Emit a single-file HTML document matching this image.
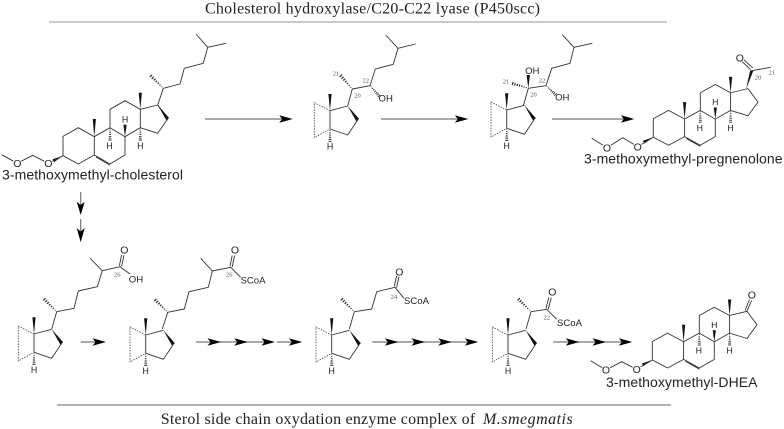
<!DOCTYPE html>
<html><head><meta charset="utf-8">
<style>
html,body{margin:0;padding:0;background:#fff}
svg{display:block;filter:blur(.3px)}
.b{fill:none;stroke:#333;stroke-width:.9;stroke-linejoin:round}
.w{fill:#111;stroke:none}
.d{fill:none;stroke:#444;stroke-width:.8;stroke-dasharray:1.5 1.2}
.a{font:9.6px "Liberation Sans",sans-serif;fill:#222;text-anchor:middle}
.m{font-size:10.5px}
.n{font:6.5px "Liberation Serif",serif;fill:#555;text-anchor:middle}
.l{font:14px "Liberation Sans",sans-serif;fill:#222}
.t{font:16px "Liberation Serif",serif;fill:#222}
.c{fill:#fff}
.ar{stroke:#777;stroke-width:1.2;fill:none}
.ah{fill:#000}
</style></head><body>
<svg width="784" height="429" viewBox="0 0 784 429" xmlns="http://www.w3.org/2000/svg">
<defs>
<path id="hv" d="M-.4 1.5h.8M-.6 3.3h1.2M-.8 5.1h1.6M-1 6.9h2M-1.2 8.7h2.4M-1.4 10.5h2.8M-1.6 12.3h3.2" stroke="#333" stroke-width=".9" fill="none"/>
<polygon id="hd" points="-13.5,-3.8 0,0 -13.5,3.8 -10.5,0"/>
<g id="nuc">
<path class="b" d="M0 0L0-19.3L15.3-28L31.3-19L31.3-.7L15.3 8.3L0 0M31.3-.7L47 8.3L62-.7L62-19L47-28L31.3-19M47-28L47-46.4L62-55L77.3-46.4L77.3-28L62-19M77.3-46.4L94.7-50.7L104.7-36.7L94.7-22.4L77.3-28M33 1.2L47 9.5"/>
<polygon class="w" points="31.3,-19 29.7,-36.7 32.9,-36.7"/>
<polygon class="w" points="77.3,-46.4 75.7,-63 78.9,-63"/>
<polygon class="w" points="62,-19 60.4,-31 63.6,-31"/>
<polygon class="w" points="0,0 -9,6.4 -10.4,3.6"/>
<use href="#hv" transform="translate(47 -28)"/>
<use href="#hv" transform="translate(77.3 -28)"/>
<text class="a" x="62" y="-33.4" style="font-size:8.8px">H</text>
<text class="a" x="46.5" y="-6.6" style="font-size:8.8px">H</text>
<text class="a" x="77.3" y="-6.6" style="font-size:8.8px">H</text>
</g>
<g id="frag">
<path class="b" d="M0 0L0 18.3L17.7 24.3L27.7 9.3M17.7-4.7L0 0"/>
<path class="d" d="M0 0L-15.7-8L-15.7 27L0 18.3"/>
<polygon class="w" points="0,0 -1.6,-16.7 1.6,-16.7"/>
<polygon class="w" points="17.7,-4.7 29.2,8.2 26.2,10.4"/>
<use href="#hv" transform="translate(0 18.3)"/>
<text class="a" x="0" y="39" style="font-size:8.8px">H</text>
</g>
</defs>

<text class="t" x="205" y="13.5" textLength="335" lengthAdjust="spacing">Cholesterol hydroxylase/C20-C22 lyase (P450scc)</text>
<line x1="49" y1="22" x2="667" y2="22" stroke="#aaa" stroke-width="1.2"/>

<!-- cholesterol -->
<use href="#nuc" x="63" y="155.7"/>
<polygon class="w" points="157.7,105 169.1,118 166.3,120"/>
<path class="b" d="M163.3 88.3L157.7 105M163.3 88.3L180 84L184.3 68.3L203.3 63.3L207.7 47.3L196 34M207.7 47.3L226 43.3M63 155.7L48.3 163.3L32.7 155.3L17.3 163.3L1.7 154.7"/>
<use href="#hv" transform="translate(163.3 88.3) rotate(135) scale(1 1.42)"/>
<circle class="c" cx="48.3" cy="163.3" r="4.6"/>
<circle class="c" cx="17.3" cy="163.3" r="4.6"/>
<text class="a m" x="48.3" y="167">O</text>
<text class="a m" x="17.3" y="167">O</text>
<text class="l" x="2" y="179.5" textLength="181">3-methoxymethyl-cholesterol</text>

<!-- diol fragment 1 -->
<use href="#frag" x="330" y="110.7"/>
<path class="b" d="M347.7 106L352.3 89L370 85.7L375.3 69L393.3 64.3L398 48.3L385.7 35M398 48.3L415.7 44"/>
<use href="#hv" transform="translate(352.3 89) rotate(139) scale(1 1.42)"/>
<use href="#hv" transform="translate(370 85.7) rotate(-42) scale(1 1.1)"/>
<text class="n" x="336" y="75.5">21</text>
<text class="n" x="357.5" y="97.5">20</text>
<text class="n" x="365.7" y="82.5">22</text>
<text class="a" x="385.7" y="101.7">OH</text>

<!-- diol fragment 2 -->
<use href="#frag" x="506.7" y="110"/>
<path class="b" d="M523.3 106L528.3 88.3L546 85.7L551.7 68.3L570 63.3L574 47.3L562.3 34.7M574 47.3L592.3 43.3"/>
<polygon class="w" points="528.3,88.3 526.6,75 530,75"/>
<use href="#hv" transform="translate(528.3 88.3) rotate(107) scale(1 1.33)"/>
<use href="#hv" transform="translate(546 85.7) rotate(-47) scale(1 1.05)"/>
<text class="a" x="532.3" y="74">OH</text>
<text class="a" x="562.3" y="100.7">OH</text>
<text class="n" x="506" y="83.5">21</text>
<text class="n" x="533.5" y="96.5">20</text>
<text class="n" x="542" y="82.5">22</text>

<!-- pregnenolone -->
<use href="#nuc" transform="translate(653.3 137.3) scale(1 .96)"/>
<polygon class="w" points="746,89.5 750.2,70.3 753.2,71"/>
<path class="b" d="M751.7 70.7L770.7 67.3M750.6 69.6L741.5 61M752.8 67.8L743.2 59.2M653.3 137.3L637.7 146.7L622.7 137.7L607 147.7L591.7 138.3"/>
<circle class="c" cx="739.8" cy="58" r="4.6"/>
<circle class="c" cx="637.7" cy="146.7" r="4.6"/>
<circle class="c" cx="607" cy="147.7" r="4.6"/>
<text class="a m" x="739.8" y="61.6">O</text>
<text class="a m" x="637.7" y="150.4">O</text>
<text class="a m" x="607" y="151.4">O</text>
<text class="n" x="758" y="79.5">20</text>
<text class="n" x="771.7" y="74.5">21</text>
<text class="l" x="584" y="163.5" textLength="198.5">3-methoxymethyl-pregnenolone</text>

<!-- arrows top -->
<path class="ar" d="M205 119H284M381 119H460M552 119H626"/>
<g class="ah">
<use href="#hd" x="292.7" y="119"/>
<use href="#hd" x="468.3" y="119"/>
<use href="#hd" x="634.3" y="119"/>
</g>
<path class="ar" d="M80.7 192V206M80.7 219V232"/>
<polygon class="ah" points="76.7,201.7 80.7,215 84.7,201.7 80.7,205"/>
<polygon class="ah" points="76.7,228 80.7,242.3 84.7,228 80.7,231.5"/>

<!-- bottom row -->
<use href="#frag" x="34" y="334"/>
<path class="b" d="M51.7 329L56.7 311.7L74 308.3L78.3 291L97.3 286.7L102.3 270.7L90 258.3M102.3 270.7L120 266.7L130 274M119.4 265.6L121.6 255M121.6 266.3L124 255.2"/>
<use href="#hv" transform="translate(56.7 311.7) rotate(135) scale(1 1.42)"/>
<circle class="c" cx="124.3" cy="250" r="4.6"/>
<text class="a m" x="124.3" y="253.6">O</text>
<text class="a" x="136" y="282.7">OH</text>
<text class="n" x="117.3" y="276.5">26</text>

<use href="#frag" x="145.7" y="335"/>
<path class="b" d="M162.3 329L167.7 312.3L184.3 309L189 291.7L208.3 287.3L212.3 271L200.7 258.3M212.3 271L230.7 267.3L240.7 277.3M230 266.3L232.2 255.5M232.2 267L234.6 255.6"/>
<use href="#hv" transform="translate(167.7 312.3) rotate(135) scale(1 1.42)"/>
<circle class="c" cx="235" cy="250" r="4.6"/>
<text class="a m" x="235" y="253.6">O</text>
<text class="a" x="253" y="283.5">SCoA</text>
<text class="n" x="229.3" y="276.5">26</text>

<use href="#frag" x="331.7" y="335"/>
<path class="b" d="M349.3 329L354.3 311.7L371.7 309L376.7 291.7L395 287.3L404 298.3M394.3 286.5L396.6 276M396.6 287.6L399 276.6"/>
<use href="#hv" transform="translate(354.3 311.7) rotate(135) scale(1 1.42)"/>
<circle class="c" cx="399.3" cy="271.7" r="4.6"/>
<text class="a m" x="399.3" y="275.3">O</text>
<text class="a" x="416.5" y="304.2">SCoA</text>
<text class="n" x="394" y="299">24</text>

<use href="#frag" x="508" y="335"/>
<path class="b" d="M526 329L531 311.7L546.7 309.3L556.7 319.3M545.9 308.5L548.9 297.2M548.2 309.4L551.3 297.8"/>
<use href="#hv" transform="translate(531 311.7) rotate(135) scale(1 1.42)"/>
<circle class="c" cx="552.3" cy="291.7" r="4.6"/>
<text class="a m" x="552.3" y="295.3">O</text>
<text class="a" x="569.5" y="325.8">SCoA</text>
<text class="n" x="546.7" y="319.5">22</text>

<!-- DHEA -->
<use href="#nuc" transform="translate(652.3 360) scale(1 .96)"/>
<path class="b" d="M745 310.5L749.5 299.5M746.7 311.6L751.7 300.5M652.3 360L636.7 369.3L621.7 361.7L606 370L590.7 360.7"/>
<circle class="c" cx="751.8" cy="295" r="4.6"/>
<circle class="c" cx="636.7" cy="369.3" r="4.6"/>
<circle class="c" cx="606" cy="370" r="4.6"/>
<text class="a m" x="751.8" y="298.5">O</text>
<text class="a m" x="636.7" y="373">O</text>
<text class="a m" x="606" y="373.7">O</text>
<text class="l" x="606" y="387" textLength="151.5">3-methoxymethyl-DHEA</text>

<!-- bottom arrows -->
<path class="ar" d="M80.7 342H98M196 342H270M276.7 342H295M372.3 342H472M553.3 342H626"/>
<g class="ah">
<use href="#hd" x="106" y="342"/>
<use href="#hd" x="221" y="342"/>
<use href="#hd" x="247.7" y="342"/>
<use href="#hd" x="275" y="342"/>
<use href="#hd" x="302.3" y="342"/>
<use href="#hd" x="398.3" y="342"/>
<use href="#hd" x="425" y="342"/>
<use href="#hd" x="451.7" y="342"/>
<use href="#hd" x="478.3" y="342"/>
<use href="#hd" x="579.3" y="342"/>
<use href="#hd" x="606" y="342"/>
<use href="#hd" x="632.3" y="342"/>
</g>

<line x1="57" y1="405" x2="671" y2="405" stroke="#666" stroke-width="1"/>
<text class="t" x="160.7" y="424" textLength="314.5" lengthAdjust="spacing">Sterol side chain oxydation enzyme complex of</text>
<text class="t" x="483" y="424" textLength="89.7" lengthAdjust="spacing" style="font-style:italic">M.smegmatis</text>
</svg>
</body></html>
